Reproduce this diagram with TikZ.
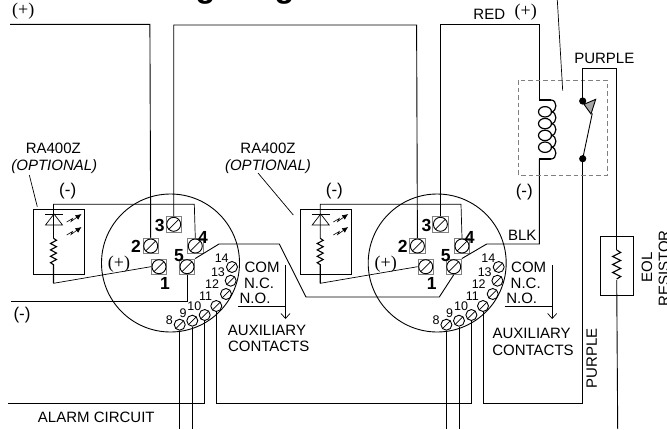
\documentclass[tikz,border=0pt]{standalone}
\usepackage{fontspec}
\setmainfont{Liberation Sans}
\newfontfamily\plusfont{Liberation Serif}
\usetikzlibrary{arrows.meta}

\tikzset{
	wire/.style = {line width = 0.9pt},
	thinwire/.style = {line width = 0.7pt},
	termbox/.style = {draw = gray, line width = 0.8pt, minimum size = 15.5pt, inner sep = 0pt},
	screw/.style = {circle, draw, line width = 0.9pt, minimum size = 11pt, inner sep = 0pt},
	bignum/.style = {font = \fontsize{17.5}{17.5}\selectfont\bfseries, inner sep = 0pt},
	smallnum/.style = {font = \fontsize{12.5}{12.5}\selectfont, inner sep = 0pt},
	lbl/.style = {font = \fontsize{15}{15}\selectfont, inner sep = 0pt},
	optlbl/.style = {font = \fontsize{15}{15}\selectfont\itshape, inner sep = 0pt},
	minus/.style = {font = \fontsize{17}{17}\selectfont, inner sep = 0pt},
	polar/.style = {font = \plusfont\fontsize{18}{18}\selectfont, inner sep = 0pt}
}

\begin{document}
\begin{tikzpicture}[x = 1pt, y = -1pt]
	 \clip (0, 0) rectangle (667, 429);
	 \fill[white] (0, 0) rectangle (667, 429);

	 \node[anchor = base west, inner sep = 0pt, font = \fontsize{32.3}{32.3}\selectfont\bfseries] (title) at (115, -2.8) {Wiring Diagram};

	 \foreach \u/\ux in {a/0, b/266.7}
	 {
	 \begin{scope}[shift = {(\ux, 0)}]
	 \draw[wire] (170.5, 263) circle (69);

	 \foreach \t/\x/\y in {1/159/266.7, 2/150.7/246, 3/173.7/224.3, 4/195.3/246, 5/187/266.7}
	 {
	 \node[termbox] (\u\t) at (\x, \y) {};
	 \draw[wire] (\u\t.center) circle (7);
	 \draw[thinwire] (\x - 5, \y + 5) -- (\x + 5, \y - 5);
	 }
	 \foreach \t/\x/\y in {8/179.7/324.7, 9/192.3/320.7, 10/204.7/315, 11/216.3/306, 12/226/294, 13/230.7/280.7, 14/232/267}
	 {
	 \node[screw] (\u\t) at (\x, \y) {};
	 \draw[thinwire] (\x - 4, \y + 4) -- (\x + 4, \y - 4);
	 }

	 \node[bignum] at (136, 246.7) {2};
	 \node[bignum] at (159.7, 225) {3};
	 \node[bignum] at (203, 237) {4};
	 \node[bignum] at (179, 256) {5};
	 \node[bignum] at (165, 283) {1};
	 \node[smallnum] at (221.7, 258) {14};
	 \node[smallnum] at (218, 271.7) {13};
	 \node[smallnum] at (212, 284.5) {12};
	 \node[smallnum] at (205.7, 296.5) {11};
	 \node[smallnum] at (194.3, 306) {10};
	 \node[smallnum] at (183, 313) {9};
	 \node[smallnum] at (169.3, 320) {8};

	 \node[polar] at (119, 264) {(+)};
	 \node[minus] at (67.7, 191.5) {(-)};

	 \draw[wire] (33.3, 209.3) rectangle (84.3, 274.7);
	 \draw[thinwire] (\u4.north) -- (194.3, 204.3) -- (53.5, 204.3) -- (53.5, 238.3);
	 \draw[line width = 1.1pt] (53.5, 238.3) -- ++(3, 2) -- ++(-6, 3.2) -- ++(6, 3.2) -- ++(-6, 3.2) -- ++(6, 3.2) -- ++(-6, 3.2) -- ++(6, 3.2) -- ++(-6, 3.2) -- ++(3, 2) -- (53.5, 283.3);
	 \draw[thinwire] (53.5, 283.3) -- (\u1.west);
	 \draw[thinwire] (45, 214) -- (63.3, 214);
	 \draw[thinwire] (54, 214) -- (45.5, 225) -- (62.5, 225) -- cycle;
	 \foreach \d in {0, 13}
	 \draw[line width = 0.6pt, -{Latex[length = 6pt, width = 5.5pt]}] (66.7, 222 + \d) -- (72.5, 218.5 + \d) -- (71, 221.5 + \d) -- (81.5, 214 + \d);

	 \node[lbl] at (262, 267) {COM};
	 \node[lbl] at (259, 283) {N.C.};
	 \node[lbl] at (255, 298) {N.O.};
	 \draw[thinwire, -{Straight Barb[length = 5pt, width = 9pt]}] (285.5, 265.3) -- (285.5, 319);
	 \draw[thinwire] (238, 306) -- (285.5, 306);
	 \end{scope}
	 }

	 \node[lbl] at (267, 330) {AUXILIARY};
	 \node[lbl] at (268.7, 346.7) {CONTACTS};
	 \node[lbl] at (531.7, 333) {AUXILIARY};
	 \node[lbl] at (533, 350) {CONTACTS};

	 \node[lbl] at (53.3, 148) {RA400Z};
	 \node[optlbl] at (54.3, 166.7) {(OPTIONAL)};
	 \node[lbl] at (268, 148) {RA400Z};
	 \node[optlbl] at (268, 166.7) {(OPTIONAL)};
	 \draw[thinwire] (29.3, 175) -- (37.3, 206.7);
	 \draw[thinwire] (258, 173) -- (293.3, 215);

	 \node[polar] at (23.3, 11) {(+)};
	 \node[minus] at (22, 315) {(-)};
	 \node[lbl] at (96.3, 417.7) {ALARM CIRCUIT};
	 \node[lbl] at (489.3, 14.3) {RED};
	 \node[polar] at (525.7, 11.7) {(+)};
	 \node[lbl] at (604.3, 58.3) {PURPLE};
	 \node[minus] at (524.3, 191.7) {(-)};
	 \node[lbl] at (522.3, 235.7) {BLK};
	 \node[lbl, rotate = 90] at (591.7, 358) {PURPLE};
	 \node[lbl, rotate = 90] at (647, 267) {EOL};
	 \node[lbl, rotate = 90] at (664, 268.5) {RESISTOR};

	 \draw[wire] (10, 24.3) -- (149.9, 24.3) -- (a2.north);
	 \draw[wire] (a3.north) -- (173.7, 25) -- (416.6, 25) -- (b2.north);
	 \draw[wire] (b3.north) -- (440.4, 24.3) -- (539.3, 24.3) -- (539.3, 100);
	 \draw[wire] (11, 301.7) -- (187, 301.7) -- (a5.south);
	 \draw[wire] (a5.north east) -- (219, 244) -- (279.3, 244) -- (306, 297) -- (439.3, 297) -- (b5.south);
	 \draw[wire] (b5.north east) -- (486.7, 244) -- (539.3, 244) -- (539.3, 159);

	 \draw[thinwire] (a8.south) -- (179.7, 429);
	 \draw[thinwire] (a9.south) -- (192.3, 429);
	 \draw[wire] (a10.south) -- (204.7, 403.3) -- (8.3, 403.3);
	 \draw[wire] (a11.south) -- (216.3, 403.3) -- (471.4, 403.3) -- (b10.south);
	 \draw[thinwire] (b8.south) -- (446.4, 429);
	 \draw[thinwire] (b9.south) -- (459, 429);
	 \draw[wire] (b11.south) -- (483, 403.3) -- (582.7, 403.3) -- (582.7, 158.7);

	 \draw[gray, line width = 0.8pt, dash pattern = on 4.5pt off 3pt] (518.7, 80) rectangle (607, 175);

	 \draw[line width = 1.2pt] (539.3, 100) -- (551, 100);
	 \draw[line width = 1.2pt] (539.3, 159) -- (551, 159);
	 \foreach \y in {100, 111.8, 123.6, 135.4, 147.2}
	 \draw[line width = 1.2pt] (551, \y) .. controls (557.5, \y) and (557.5, \y + 11.8) .. (551, \y + 11.8);
	 \foreach \y in {111.8, 123.6, 135.4, 147.2}
	 \draw[line width = 1.2pt] (545, \y) ellipse (6.5 and 5.2);

	 \coordinate (contacttop) at (582.7, 101);
	 \coordinate (contactlow) at (582.7, 158.7);
	 \fill (contacttop) circle (3.6);
	 \fill (contactlow) circle (3.6);
	 \draw[wire] (contactlow) -- (592.3, 113.3);
	 \draw[wire, fill = gray!70] (584, 104.3) -- (595.7, 99.3) -- (591, 114) -- cycle;
	 \draw[wire] (contacttop) -- (582.7, 68.3) -- (616.7, 68.3) -- (616.7, 250);
	 \draw[thinwire] (557.3, 0) -- (562.7, 90.7);

	 \draw[wire] (600.7, 236.7) rectangle (633.3, 295);
	 \draw[line width = 1.1pt] (616.7, 250) -- ++(4, 2.5) -- ++(-8, 4) -- ++(8, 4) -- ++(-8, 4) -- ++(8, 4) -- ++(-8, 4) -- ++(8, 4) -- ++(-4, 2.5);
	 \draw[wire] (616.7, 280) -- (617.7, 429);
\end{tikzpicture}
\end{document}
